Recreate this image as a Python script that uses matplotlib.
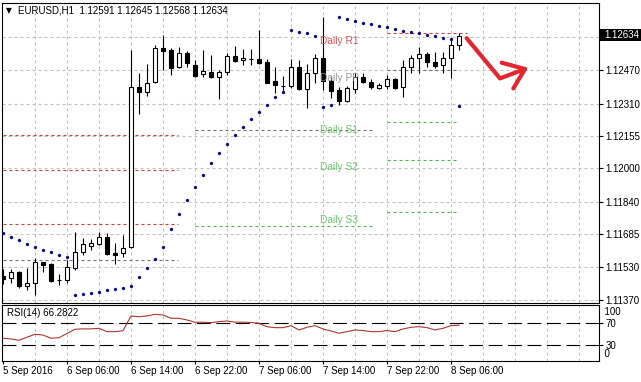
import matplotlib
matplotlib.use("Agg")
import matplotlib.pyplot as plt
from matplotlib.patches import Rectangle

plt.rcParams['font.family'] = ['Liberation Sans', 'DejaVu Sans']
plt.rcParams['lines.scale_dashes'] = False

# ---------------- data ----------------
title_text = "EURUSD,H1  1.12591 1.12645 1.12568 1.12634"
rsi_title = "RSI(14) 66.2822"

opens = [1.11485, 1.11477, 1.11504, 1.11439, 1.11450, 1.11552, 1.11543, 1.11466, 1.11465, 1.11525,
         1.11599, 1.11630, 1.11640, 1.11670, 1.11595, 1.11594, 1.11623, 1.12387, 1.12363, 1.12411,
         1.12575, 1.12566, 1.12483, 1.12550, 1.12494, 1.12449, 1.12459, 1.12438, 1.12462, 1.12535,
         1.12516, 1.12524, 1.12521, 1.12507, 1.12419, 1.12393, 1.12393, 1.12483, 1.12378, 1.12454,
         1.12529, 1.12419, 1.12374, 1.12323, 1.12381, 1.12438, 1.12414, 1.12385, 1.12395, 1.12426,
         1.12387, 1.12483, 1.12526, 1.12545, 1.12510, 1.12494, 1.12529, 1.12591]
highs = [1.11518, 1.11518, 1.11511, 1.11524, 1.11570, 1.11554, 1.11549, 1.11493, 1.11562, 1.11694,
         1.11666, 1.11662, 1.11697, 1.11689, 1.11642, 1.11681, 1.12566, 1.12457, 1.12497, 1.12588,
         1.12639, 1.12574, 1.12581, 1.12562, 1.12518, 1.12566, 1.12542, 1.12470, 1.12550, 1.12585,
         1.12569, 1.12570, 1.12661, 1.12523, 1.12483, 1.12441, 1.12521, 1.12518, 1.12499, 1.12547,
         1.12725, 1.12438, 1.12387, 1.12393, 1.12454, 1.12454, 1.12426, 1.12409, 1.12446, 1.12430,
         1.12518, 1.12542, 1.12581, 1.12558, 1.12558, 1.12558, 1.12622, 1.12645]
lows = [1.11447, 1.11452, 1.11429, 1.11418, 1.11395, 1.11503, 1.11458, 1.11442, 1.11450, 1.11514,
        1.11586, 1.11611, 1.11634, 1.11586, 1.11541, 1.11578, 1.11617, 1.12258, 1.12347, 1.12406,
        1.12470, 1.12446, 1.12478, 1.12486, 1.12435, 1.12438, 1.12433, 1.12331, 1.12446, 1.12510,
        1.12494, 1.12494, 1.12499, 1.12406, 1.12361, 1.12360, 1.12382, 1.12374, 1.12290, 1.12409,
        1.12374, 1.12335, 1.12303, 1.12318, 1.12359, 1.12409, 1.12378, 1.12378, 1.12379, 1.12378,
        1.12342, 1.12457, 1.12457, 1.12486, 1.12478, 1.12454, 1.12430, 1.12568]
closes = [1.11470, 1.11506, 1.11438, 1.11450, 1.11551, 1.11539, 1.11463, 1.11468, 1.11527, 1.11599,
          1.11637, 1.11642, 1.11670, 1.11590, 1.11587, 1.11618, 1.12389, 1.12363, 1.12409, 1.12574,
          1.12562, 1.12481, 1.12550, 1.12505, 1.12443, 1.12465, 1.12435, 1.12462, 1.12537, 1.12514,
          1.12527, 1.12523, 1.12502, 1.12409, 1.12398, 1.12392, 1.12483, 1.12378, 1.12454, 1.12526,
          1.12419, 1.12371, 1.12323, 1.12382, 1.12438, 1.12414, 1.12390, 1.12397, 1.12427, 1.12385,
          1.12483, 1.12526, 1.12545, 1.12507, 1.12491, 1.12529, 1.12591, 1.12634]
sar = [1.11692, 1.11672, 1.11657, 1.11638, 1.11623, 1.11610, 1.11600, 1.11586, 1.11576, 1.11395,
       1.11399, 1.11403, 1.11409, 1.11417, 1.11423, 1.11428, 1.11435, 1.11482, 1.11525, 1.11565,
       1.11625, 1.11709, 1.11782, 1.11849, 1.11909, 1.11970, 1.12025, 1.12075, 1.12116, 1.12159,
       1.12199, 1.12236, 1.12269, 1.12303, 1.12341, 1.12365, 1.12661, 1.12654, 1.12645, 1.12635,
       1.12292, 1.12303, 1.12725, 1.12714, 1.12704, 1.12693, 1.12688, 1.12682, 1.12676, 1.12666,
       1.12658, 1.12650, 1.12645, 1.12639, 1.12633, 1.12624, 1.12618, 1.12300]
rsi = [42.0, 40.6, 38.2, 44.0, 49.4, 48.0, 42.0, 43.0, 51.0, 58.8,
       59.5, 59.5, 60.6, 54.3, 54.3, 56.2, 83.6, 82.3, 83.6, 86.8,
       85.5, 79.3, 79.3, 76.2, 71.9, 71.9, 71.2, 73.0, 74.3, 72.0,
       72.0, 71.5, 70.0, 63.6, 61.8, 61.8, 65.5, 57.5, 62.5, 65.5,
       59.3, 55.6, 51.3, 54.3, 57.5, 56.4, 54.3, 54.3, 56.4, 54.3,
       59.3, 62.5, 63.6, 61.8, 57.5, 60.6, 65.5, 66.2822]

price_ticks = [1.11370, 1.11530, 1.11685, 1.11840, 1.12000, 1.12155, 1.12310, 1.12470]
extra_grid_price = 1.12630
time_labels = ["5 Sep 2016", "6 Sep 06:00", "6 Sep 14:00", "6 Sep 22:00",
               "7 Sep 06:00", "7 Sep 14:00", "7 Sep 22:00", "8 Sep 06:00"]
time_label_bars = [0, 8, 16, 24, 32, 40, 48, 56]

# pivot levels
pivot_prev_levels = [1.12159, 1.11992, 1.11732]   # red (resistances, previous day)
pivot_prev_pp = 1.11561
pivot_mid_pp = 1.12183
pivot_mid_s1 = 1.11724
pivot_r1 = 1.12645
pivot_pp = 1.12470
pivot_s = [1.12221, 1.12040, 1.11791]
pivot_labels = ["Daily R1", "Daily PP", "Daily S1", "Daily S2", "Daily S3"]
rsi_levels = [70, 30]

# ---------------- layout ----------------
W, H = 641, 382
def fx(px): return px / W
def fy(py): return 1 - py / H

fig = plt.figure(figsize=(W / 100, H / 100), dpi=100)
fig.patch.set_facecolor('white')

ax = fig.add_axes([fx(2), fy(303), fx(599) - fx(2), fy(2.5) - fy(303)])
axr = fig.add_axes([fx(2), fy(360.7), fx(599) - fx(2), fy(305.3) - fy(360.7)])

XL = (-0.125, 74.5)
for a in (ax, axr):
    a.set_xlim(*XL)
    for s in a.spines.values():
        s.set_linewidth(0.8)
        s.set_color('black')

ax.set_ylim(1.11356, 1.12793)
axr.set_ylim(0, 103.6)

px = 0.72  # one pixel in points
grid_kw = dict(color='#c0c0c0', lw=0.75, dashes=(3 * px, 3 * px), zorder=0)

for b in range(4, 75, 4):
    ax.axvline(b, **grid_kw)
    axr.axvline(b, **grid_kw)
for p in price_ticks + [extra_grid_price]:
    ax.axhline(p, **grid_kw)

# ---------------- pivots ----------------
red = '#d23c3c'
green = '#4cb84c'
ppcol = '#707070'
pdash = (3 * px, 3 * px)
for lv in pivot_prev_levels:
    ax.plot([0, 21.9], [lv, lv], color=red, lw=0.8, dashes=pdash, zorder=1)
ax.plot([0, 21.9], [pivot_prev_pp, pivot_prev_pp], color=ppcol, lw=0.8, dashes=pdash, zorder=1)
ax.plot([24, 46.1], [pivot_mid_pp, pivot_mid_pp], color=ppcol, lw=0.8, dashes=pdash, zorder=1)
ax.plot([24, 46.1], [pivot_mid_s1, pivot_mid_s1], color=green, lw=0.8, dashes=pdash, zorder=1)
ax.plot([48, 58], [pivot_r1, pivot_r1], color=red, lw=0.8, dashes=pdash, zorder=1)
ax.plot([48, 56.8], [pivot_pp, pivot_pp], color=ppcol, lw=0.8, dashes=pdash, zorder=1)
for lv in pivot_s:
    ax.plot([48, 56.7], [lv, lv], color=green, lw=0.8, dashes=pdash, zorder=1)

label_levels = [pivot_r1, pivot_pp] + pivot_s
label_colors = ['#e04848', '#8a8a8a', '#5cc05c', '#5cc05c', '#5cc05c']
for txt, lv, c in zip(pivot_labels, label_levels, label_colors):
    ax.annotate(txt, xy=(39.6, lv), xytext=(0, -5.4), textcoords='offset points',
                ha='left', va='center', fontsize=7.3, color=c, zorder=6, alpha=0.9)

# ---------------- candles ----------------
bw = 0.5
for i, (o, h, l, c) in enumerate(zip(opens, highs, lows, closes)):
    ax.plot([i, i], [l, h], color='black', lw=0.8, zorder=3, solid_capstyle='butt')
    bottom = min(o, c)
    height = abs(c - o)
    fc = 'white' if c >= o else 'black'
    ax.add_patch(Rectangle((i - bw / 2, bottom), bw, height, facecolor=fc,
                           edgecolor='black', lw=0.8, zorder=4))

# ---------------- parabolic SAR ----------------
ax.plot(range(len(sar)), sar, ls='none', marker='o', ms=2.4, mew=0, color='#0a0a80', zorder=5)

# ---------------- hand drawn arrow ----------------
arrow_color = '#e32630'
ax.plot([57.96, 62.125, 65.25], [1.12622, 1.12430, 1.12475], color=arrow_color, lw=3.0,
        solid_capstyle='round', solid_joinstyle='round', zorder=7)
ax.plot([62.34, 65.25, 63.79], [1.12505, 1.12475, 1.12382], color=arrow_color, lw=3.0,
        solid_capstyle='round', solid_joinstyle='round', zorder=7)

# ---------------- price axis ----------------
ax.yaxis.tick_right()
ax.set_yticks(price_ticks)
ax.set_yticklabels([f"{p:.5f}" for p in price_ticks])
ax.tick_params(axis='y', length=3, width=0.8, pad=1.5, labelsize=7, colors='black')
ax.set_xticks([])

fig.patches.append(Rectangle((fx(599), fy(40.7)), fx(641) - fx(599), (40.7 - 29.3) / H,
                             transform=fig.transFigure, facecolor='black', edgecolor='none'))
fig.text(fx(604), fy(35), f"{closes[-1]:.5f}", color='white', fontsize=7, va='center', ha='left')

fig.text(fx(6), fy(10.5), "\u25BC", fontsize=5.5, family='DejaVu Sans', va='center', ha='left')
fig.text(fx(18), fy(10.5), title_text, fontsize=7, va='center', ha='left')

# ---------------- RSI ----------------
for lv in rsi_levels:
    axr.axhline(lv, color='black', lw=0.8, dashes=(10, 4), zorder=1)
axr.plot(range(len(rsi)), rsi, color='#b03434', lw=0.8, zorder=3)
axr.text(0.008, 0.87, rsi_title, transform=axr.transAxes, fontsize=7, va='center', ha='left')
axr.yaxis.tick_right()
axr.set_yticks(rsi_levels)
axr.set_yticklabels([str(v) for v in rsi_levels])
axr.tick_params(axis='y', length=3, width=0.8, pad=1.5, labelsize=7)
axr.text(1.0, 0.874, "  100", transform=axr.transAxes, fontsize=7, va='center', ha='left')
axr.text(1.0, 0.1155, "  0", transform=axr.transAxes, fontsize=7, va='center', ha='left')

axr.set_xticks(time_label_bars)
axr.set_xticklabels(time_labels, ha='left')
axr.tick_params(axis='x', length=2.5, width=0.8, pad=1.5, labelsize=7)

fig.savefig("out.png", dpi=100, facecolor='white')
